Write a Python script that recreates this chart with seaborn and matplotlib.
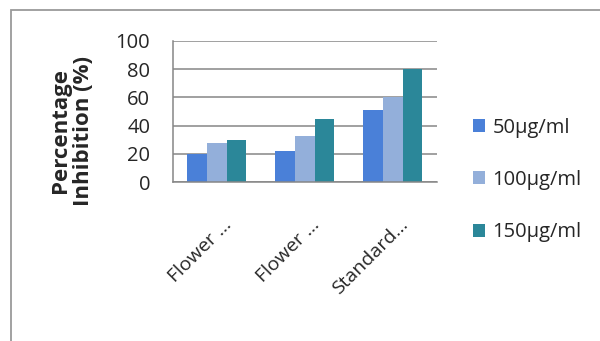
import matplotlib
matplotlib.use("Agg")
import matplotlib.pyplot as plt
import matplotlib.patches as mpatches
import matplotlib.transforms as mtransforms
import seaborn as sns
import pandas as pd

categories = ["Flower ...", "Flower ...", "Standard..."]
cat_keys = ["c1", "c2", "c3"]
series = ["50µg/ml", "100µg/ml", "150µg/ml"]
vals_50 = [20, 22, 51]
vals_100 = [28, 33, 60]
vals_150 = [30, 45, 80]
colors = ["#4A80D8", "#93AFDA", "#2B8799"]

rows = []
for s, vals in zip(series, [vals_50, vals_100, vals_150]):
    for k, v in zip(cat_keys, vals):
        rows.append({"cat": k, "series": s, "value": v})
df = pd.DataFrame(rows)

sns.set_theme(style="white")
plt.rcParams["font.family"] = ["Open Sans", "DejaVu Sans"]

fig = plt.figure(figsize=(6, 3.41), dpi=100)
ax = fig.add_axes([0.288, 0.466, 0.44, 0.414])

sns.barplot(data=df, x="cat", y="value", hue="series", order=cat_keys,
            hue_order=series, palette=dict(zip(series, colors)),
            width=0.67, ax=ax, legend=False, saturation=1, linewidth=0)

ax.set_ylim(0, 100)
ax.set_xlim(-0.5, 2.5)
ax.set_yticks([0, 20, 40, 60, 80, 100])
ax.set_yticklabels(["0", "20", "40", "60", "80", "100"], fontsize=14.5)
ax.set_xticks([0, 1, 2])
ax.set_xticklabels(categories, fontsize=14, rotation=45, ha="right",
                   va="top", rotation_mode="anchor")
ax.set_xticks([-0.5, 0.5, 1.5, 2.5], minor=True)
ax.tick_params(axis="x", which="major", length=0, pad=24)
ax.tick_params(axis="x", which="minor", length=8, width=1.1, color="#868686", direction="out")
ax.tick_params(axis="y", which="major", length=4.3, width=1.1, color="#868686", direction="out", pad=12)
ax.yaxis.grid(True, color="#868686", linewidth=1.1)
ax.set_axisbelow(True)
for side in ["top", "right"]:
    ax.spines[side].set_visible(False)
for side in ["left", "bottom"]:
    ax.spines[side].set_color("#868686")
    ax.spines[side].set_linewidth(1.1)
ax.set_xlabel("")
ax.set_ylabel("Percentage\nInhibition (%)", fontsize=16, fontweight="bold", linespacing=1.15)
ax.yaxis.set_label_coords(-0.298, 0.365)

offset = mtransforms.ScaledTranslation(6/100, 0, fig.dpi_scale_trans)
for lbl in ax.get_xticklabels():
    lbl.set_transform(lbl.get_transform() + offset)

handles = [mpatches.Patch(facecolor=c, edgecolor="none", label=s) for s, c in zip(series, colors)]
fig.legend(handles=handles, loc="center left", bbox_to_anchor=(0.788, 0.472),
           frameon=False, fontsize=14.5, handlelength=0.62, handleheight=0.62,
           handletextpad=0.35, labelspacing=1.6, borderpad=0, borderaxespad=0)

border = mpatches.Rectangle((0.018, -0.1), 1.2, 1.071, transform=fig.transFigure,
                            fill=False, edgecolor="#9a9a9a", linewidth=1.3)
fig.patches.append(border)

fig.savefig("out.png", dpi=100)
